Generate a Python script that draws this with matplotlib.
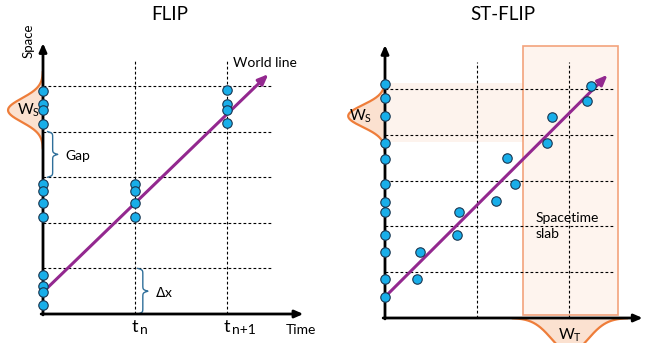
import numpy as np
import matplotlib.pyplot as plt
from matplotlib.patches import Rectangle

plt.rcParams['font.family'] = ['Lato', 'DejaVu Sans']

# positions of the particles (time units, space units; grid spacing = 1)
flip_axis_y = [4.89, 4.61, 4.47, 4.17, 2.85, 2.70, 2.43, 2.13, 0.86, 0.61, 0.48, 0.20]
flip_tn_y = [2.85, 2.70, 2.43, 2.13]
flip_tn1_y = [4.91, 4.61, 4.47, 4.19]
flip_times = [1, 2]

st_axis_y = [5.11, 4.80, 4.41, 3.82, 3.47, 2.93, 2.53, 2.31, 1.81, 1.44, 0.85, 0.46]
st_t = [0.35, 0.38, 0.78, 0.80, 1.21, 1.33, 1.41, 1.76, 1.82, 2.20, 2.24]
st_y = [0.85, 1.44, 1.81, 2.31, 2.55, 3.49, 2.93, 3.82, 4.39, 4.74, 5.07]

grid_y = [1, 2, 3, 4, 5]
grid_t = [1, 2]

DOT = '#18aee9'
DOT_EDGE = '#1a3650'
PURPLE = '#93288f'
ORANGE = '#ee7d3a'
ORANGE_FILL = '#fbe1d0'
BRACE = '#2f6f9a'

W, H = 645, 343
fig = plt.figure(figsize=(W / 100, H / 100), dpi=100)


def panel(ox, oy, ux, uy, xlim, ylim):
    # place an axes so that data (0,0) sits at pixel (ox, oy)
    left = (ox + xlim[0] * ux) / W
    right = (ox + xlim[1] * ux) / W
    bottom = (H - (oy - ylim[0] * uy)) / H
    top = (H - (oy - ylim[1] * uy)) / H
    ax = fig.add_axes([left, bottom, right - left, top - bottom])
    ax.set_xlim(xlim)
    ax.set_ylim(ylim)
    ax.axis('off')
    return ax


def brace(ax, x, y0, y1, w):
    # vertical curly brace "}" from y0 to y1, tip pointing right
    n = 60
    half = (y1 - y0) / 2
    yy = np.linspace(0, half, n)
    beta = 60 / (y1 - y0)
    xh = 1 / (1 + np.exp(-beta * (yy - yy[0]))) + 1 / (1 + np.exp(-beta * (yy - yy[-1])))
    xh = (xh - xh.min()) / (xh.max() - xh.min())
    ys = np.concatenate([y0 + yy, y0 + half + yy])
    xs = np.concatenate([xh, xh[::-1]])
    ax.plot(x + w * xs, ys, color=BRACE, lw=1.0, clip_on=False, zorder=3)


def gauss_left(ax, mu, sigma, amp):
    yy = np.linspace(mu - 3.2 * sigma, mu + 3.2 * sigma, 200)
    g = amp * np.exp(-0.5 * ((yy - mu) / sigma) ** 2)
    ax.fill_betweenx(yy, -g, 0, color=ORANGE_FILL, lw=0, zorder=1, clip_on=False)
    ax.plot(-g, yy, color=ORANGE, lw=1.6, zorder=2, clip_on=False)


def axes_arrows(ax, xmax, ymax):
    kw = dict(arrowstyle='-|>,head_length=0.5,head_width=0.22', lw=2, color='black',
              shrinkA=0, shrinkB=0)
    ax.annotate('', xy=(xmax, 0), xytext=(-0.02, 0), arrowprops=kw, zorder=4)
    ax.annotate('', xy=(0, ymax), xytext=(0, -0.02), arrowprops=kw, zorder=4)


def grid(ax, xend, ytop):
    for y in grid_y:
        ax.plot([0, xend], [y, y], color='black', lw=0.8, ls=(0, (2.5, 2)), zorder=3)
    for t in grid_t:
        ax.plot([t, t], [0, ytop], color='black', lw=0.8, ls=(0, (2.5, 2)), zorder=3)


def dots(ax, xs, ys):
    ax.plot(xs, ys, 'o', ms=6.8, mfc=DOT, mec=DOT_EDGE, mew=0.8, zorder=6, clip_on=False)


# ---------------- FLIP ----------------
ax1 = panel(43, 314, 92, 45.6, (-0.47, 3.0), (-0.63, 6.88))
grid(ax1, 2.5, 5.59)
gauss_left(ax1, 4.47, 0.26, 0.38)
axes_arrows(ax1, 2.83, 5.94)
ax1.annotate('', xy=(2.45, 5.26), xytext=(0, 0.48),
             arrowprops=dict(arrowstyle='-|>,head_length=0.6,head_width=0.25', lw=2.2,
                             color=PURPLE, shrinkA=0, shrinkB=0), zorder=5)
dots(ax1, np.zeros(len(flip_axis_y)), flip_axis_y)
dots(ax1, np.full(len(flip_tn_y), flip_times[0]), flip_tn_y)
dots(ax1, np.full(len(flip_tn1_y), flip_times[1]), flip_tn1_y)
brace(ax1, 0.05, 3.0, 4.0, 0.11)
brace(ax1, 1.03, 0.0, 1.0, 0.11)

ax1.text(1.38, 6.56, 'FLIP', ha='center', va='center', fontsize=13.5)
ax1.text(-0.16, 5.99, 'Space', rotation=90, ha='center', va='center', fontsize=9.5)
ax1.text(2.80, -0.35, 'Time', ha='center', va='center', fontsize=10)
ax1.text(2.07, 5.50, 'World line', ha='left', va='center', fontsize=10)
ax1.text(0.24, 3.46, 'Gap', ha='left', va='center', fontsize=10)
ax1.text(1.22, 0.48, r'$\Delta$x', ha='left', va='center', fontsize=10)
ax1.text(-0.16, 4.47, r'W$_\mathregular{S}$', ha='center', va='center', fontsize=11)
ax1.text(1.0, -0.28, 't', ha='center', va='center', fontsize=13)
ax1.text(1.05, -0.36, 'n', ha='left', va='center', fontsize=10)
ax1.text(2.0, -0.28, 't', ha='center', va='center', fontsize=13)
ax1.text(2.05, -0.36, 'n+1', ha='left', va='center', fontsize=10)

# ---------------- ST-FLIP ----------------
ax2 = panel(385, 318, 92, 45.8, (-0.6, 2.83), (-0.54, 6.94))
ax2.add_patch(Rectangle((0, 3.84), 1.5, 1.29, facecolor='#fdf3ed', edgecolor='none', zorder=1))
ax2.add_patch(Rectangle((1.5, 0.07), 1.03, 5.87, facecolor='#fef4ee', edgecolor='#f3a37c',
                        lw=1.2, zorder=1))
# temporal kernel below the time axis
tt = np.linspace(2.01 - 0.62, 2.01 + 0.62, 200)
gt = 0.75 * np.exp(-0.5 * ((tt - 2.01) / 0.2) ** 2)
ax2.fill_between(tt, -gt, 0, color=ORANGE_FILL, lw=0, zorder=1, clip_on=False)
ax2.plot(tt, -gt, color=ORANGE, lw=1.6, zorder=2, clip_on=False)

grid(ax2, 2.5, 5.59)
gauss_left(ax2, 4.41, 0.24, 0.40)
axes_arrows(ax2, 2.80, 5.96)
ax2.annotate('', xy=(2.42, 5.31), xytext=(0, 0.46),
             arrowprops=dict(arrowstyle='-|>,head_length=0.6,head_width=0.25', lw=2.2,
                             color=PURPLE, shrinkA=0, shrinkB=0), zorder=5)
dots(ax2, np.zeros(len(st_axis_y)), st_axis_y)
dots(ax2, st_t, st_y)

ax2.text(1.28, 6.62, 'ST-FLIP', ha='center', va='center', fontsize=13.5)
ax2.text(1.64, 2.01, 'Spacetime\nslab', ha='left', va='center', fontsize=10, linespacing=1.35)
ax2.text(-0.27, 4.41, r'W$_\mathregular{S}$', ha='center', va='center', fontsize=11)
ax2.text(2.01, -0.37, r'W$_\mathregular{T}$', ha='center', va='center', fontsize=11)

fig.savefig('out.png', dpi=100)
